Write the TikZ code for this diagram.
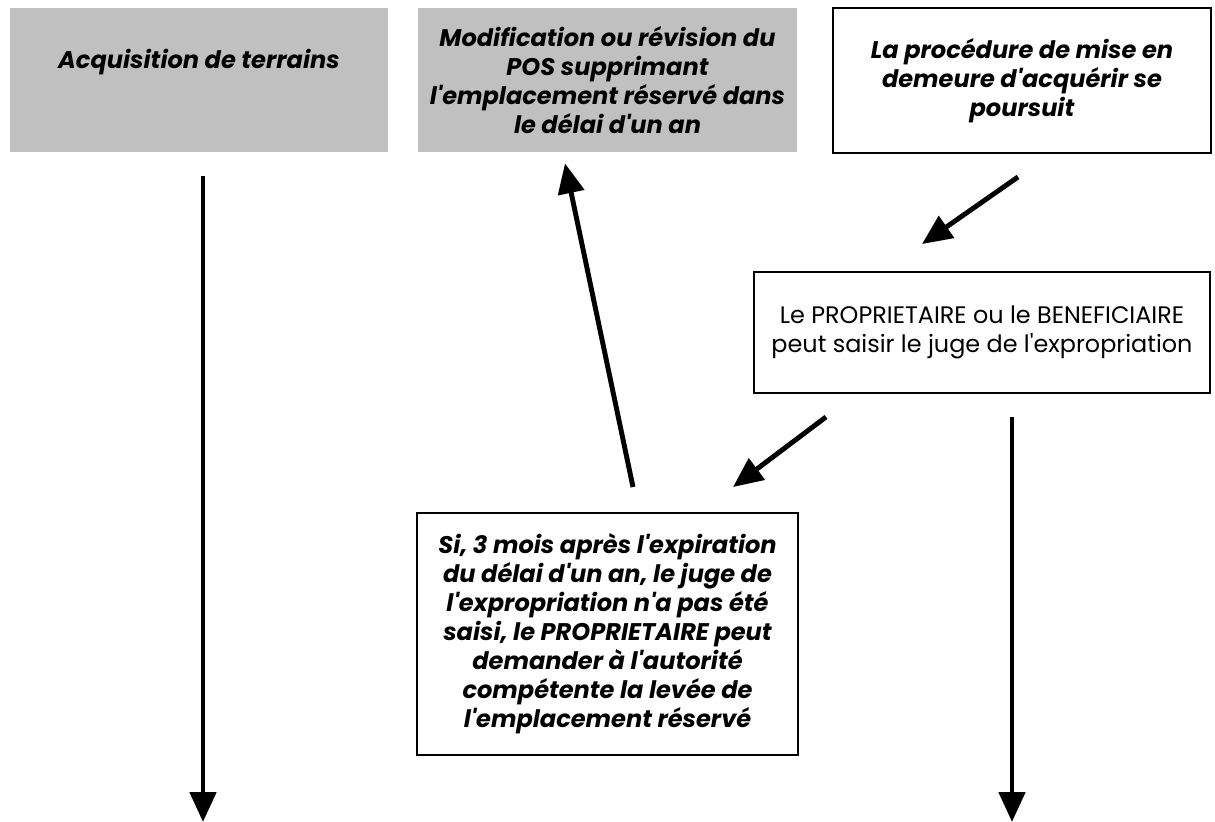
\documentclass[tikz,border=0pt]{standalone}
\usepackage{fontspec}
\setmainfont{Poppins}
\usepackage{xcolor}
\usepackage{tikz}
\usetikzlibrary{calc,arrows.meta,positioning}

\newcommand{\aposq}{\textquotesingle}
\definecolor{boxgray}{RGB}{192,192,192}
\tikzset{
  graybox/.style={fill=boxgray, inner sep=0pt},
  framebox/.style={draw=black, line width=1.1pt, fill=white, inner sep=0pt},
  boxtext/.style={align=center, font=\fontsize{13.7}{16.5}\selectfont\bfseries\itshape},
  plaintext/.style={align=center, font=\fontsize{13.6}{16.5}\selectfont},
  arr/.style={line width=2.8pt, -{Triangle[length=0.6cm, width=0.52cm]}},
}

\begin{document}
\begin{tikzpicture}[x=0.02cm, y=-0.02cm]
\useasboundingbox (0,0) rectangle (1215,822);
\node[graybox, minimum width=378*0.02cm, minimum height=144*0.02cm] (acq) at (199,80) {};
\node[boxtext] (acqtxt) at (199,62) {Acquisition de terrains};
\node[graybox, boxtext, minimum width=379*0.02cm, minimum height=144*0.02cm] (modif) at (607.5,80)
  {Modification ou révision du\\ POS supprimant\\ l\aposq emplacement réservé dans\\ le délai d\aposq un an};
\node[framebox, boxtext, minimum width=378*0.02cm, minimum height=145*0.02cm] (proc) at (1022,80.5)
  {La procédure de mise en\\ demeure d\aposq acquérir se\\ poursuit};
\node[framebox, plaintext, minimum width=456*0.02cm, minimum height=121*0.02cm] (prop) at (982,332.5)
  {Le PROPRIETAIRE ou le BENEFICIAIRE\\ peut saisir le juge de l\aposq expropriation};
\node[framebox, boxtext, minimum width=381*0.02cm, minimum height=242*0.02cm] (si) at (607.5,634)
  {Si, 3 mois après l\aposq expiration\\ du délai d\aposq un an, le juge de\\ l\aposq expropriation n\aposq a pas été\\ saisi, le PROPRIETAIRE peut\\ demander à l\aposq autorité\\ compétente la levée de\\ l\aposq emplacement réservé};

\coordinate (acqend) at (203,822);
\coordinate (propend) at (1012,822);
\draw[arr] ($(acq.south)+(4,24)$) -- (acqend);
\draw[arr] ($(si.north)+(25.5,-25)$) -- ($(modif.south)+(-42.5,11)$);
\draw[arr] ($(proc.south)+(-4,23)$) -- ($(prop.north)+(-60,-27)$);
\draw[arr] ($(prop.south)+(-156,23)$) -- ($(si.north)+(125.5,-25)$);
\draw[arr] ($(prop.south)+(30,23)$) -- (propend);
\end{tikzpicture}
\end{document}
